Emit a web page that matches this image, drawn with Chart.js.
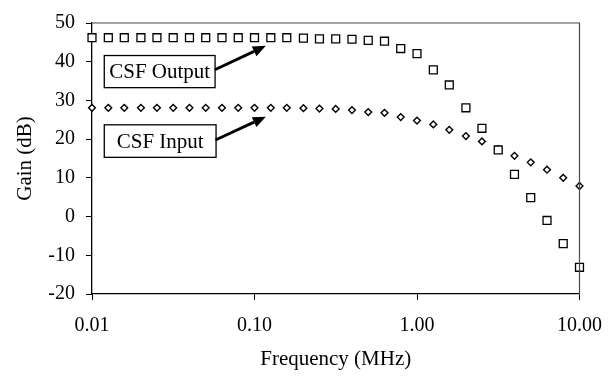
<!DOCTYPE html>
<html>
<head>
<meta charset="utf-8">
<script src="https://cdn.jsdelivr.net/npm/chart.js@4"></script>
<style>
  html, body { margin: 0; padding: 0; background: #ffffff; }
  #wrap { width: 616px; height: 378px; position: relative; }
</style>
</head>
<body>
<div id="wrap"><canvas id="c" width="616" height="378"></canvas></div>
<script>
// Frequency (MHz), 10 points per decade
const frequencies = [0.01, 0.0126, 0.0158, 0.02, 0.0251, 0.0316, 0.0398, 0.0501, 0.0631, 0.0794,
  0.1, 0.126, 0.158, 0.2, 0.251, 0.316, 0.398, 0.501, 0.631, 0.794,
  1, 1.26, 1.58, 2, 2.51, 3.16, 3.98, 5.01, 6.31, 7.94, 10];
// Gain (dB)
const csfOutput = [46.2, 46.2, 46.2, 46.2, 46.2, 46.2, 46.2, 46.2, 46.2, 46.2,
  46.2, 46.2, 46.2, 46.1, 45.9, 45.9, 45.8, 45.5, 45.3, 43.4,
  42.1, 37.9, 34.0, 28.1, 22.8, 17.2, 10.9, 4.9, -1.0, -7.0, -13.1];
const csfInput = [28.1, 28.1, 28.1, 28.1, 28.1, 28.1, 28.1, 28.1, 28.1, 28.1,
  28.1, 28.1, 28.1, 28.0, 27.9, 27.8, 27.5, 27.0, 26.8, 25.7,
  24.8, 23.8, 22.4, 20.8, 19.4, 17.4, 15.7, 14.0, 12.1, 10.0, 7.9];
const xTickValues = [0.01, 0.1, 1, 10];
const xTickLabels = ['0.01', '0.10', '1.00', '10.00'];
const seriesNames = ['CSF Output', 'CSF Input'];

const FONT = "'Liberation Serif', 'Times New Roman', serif";

// callout boxes: label text, box (data coords) and arrow tip (data coords)
const callouts = [
  { text: 'CSF Output', x0: 0.0119, x1: 0.0572, yTop: 41.6, yBot: 33.3, ax: 0.0570, ay: 37.9, tx: 0.1175, ty: 44.1 },
  { text: 'CSF Input',  x0: 0.0119, x1: 0.0580, yTop: 23.7, yBot: 15.3, ax: 0.0575, ay: 19.8, tx: 0.1175, ty: 25.8 }
];

const framePlugin = {
  id: 'frame',
  afterDatasetsDraw(chart) {
    const { ctx, chartArea: a, scales } = chart;
    ctx.save();
    // top and right frame
    ctx.strokeStyle = '#4a4a4a';
    ctx.lineWidth = 1.2;
    ctx.beginPath();
    ctx.moveTo(a.left, a.top);
    ctx.lineTo(a.right, a.top);
    ctx.lineTo(a.right, a.bottom);
    ctx.stroke();
    // callouts
    const xs = scales.x, ys = scales.y;
    callouts.forEach(c => {
      const bx0 = xs.getPixelForValue(c.x0), bx1 = xs.getPixelForValue(c.x1);
      const by0 = ys.getPixelForValue(c.yTop), by1 = ys.getPixelForValue(c.yBot);
      ctx.fillStyle = '#fff';
      ctx.fillRect(bx0, by0, bx1 - bx0, by1 - by0);
      ctx.strokeStyle = '#000';
      ctx.lineWidth = 1.3;
      ctx.strokeRect(bx0, by0, bx1 - bx0, by1 - by0);
      ctx.fillStyle = '#000';
      ctx.font = '21px ' + FONT;
      ctx.textAlign = 'center';
      ctx.textBaseline = 'middle';
      ctx.fillText(c.text, (bx0 + bx1) / 2, (by0 + by1) / 2 + 1);
      // arrow
      const sx = xs.getPixelForValue(c.ax), sy = ys.getPixelForValue(c.ay);
      const tx = xs.getPixelForValue(c.tx), ty = ys.getPixelForValue(c.ty);
      const ang = Math.atan2(ty - sy, tx - sx);
      const hl = 13, hw = 5.5;
      const bxp = tx - hl * Math.cos(ang), byp = ty - hl * Math.sin(ang);
      ctx.lineWidth = 2.8;
      ctx.beginPath();
      ctx.moveTo(sx, sy);
      ctx.lineTo(bxp, byp);
      ctx.stroke();
      ctx.beginPath();
      ctx.moveTo(tx, ty);
      ctx.lineTo(bxp + hw * Math.sin(ang), byp - hw * Math.cos(ang));
      ctx.lineTo(bxp - hw * Math.sin(ang), byp + hw * Math.cos(ang));
      ctx.closePath();
      ctx.fill();
    });
    ctx.restore();
  }
};

const bgPlugin = {
  id: 'bg',
  beforeDraw(chart) {
    const ctx = chart.ctx;
    ctx.save();
    ctx.fillStyle = '#fff';
    ctx.fillRect(0, 0, chart.width, chart.height);
    ctx.restore();
  }
};

new Chart(document.getElementById('c'), {
  type: 'scatter',
  data: {
    datasets: [
      {
        label: seriesNames[0],
        data: frequencies.map((f, i) => ({ x: f, y: csfOutput[i] })),
        pointStyle: 'rect',
        pointRadius: 5.6,
        pointBorderWidth: 1.3,
        borderColor: '#000',
        backgroundColor: '#fff',
        clip: false
      },
      {
        label: seriesNames[1],
        data: frequencies.map((f, i) => ({ x: f, y: csfInput[i] })),
        pointStyle: 'rectRot',
        pointRadius: 3.4,
        pointBorderWidth: 1.4,
        borderColor: '#000',
        backgroundColor: '#fff',
        clip: false
      }
    ]
  },
  options: {
    responsive: false,
    animation: false,
    devicePixelRatio: 1,
    layout: { padding: { top: 18, right: 34, left: 0, bottom: 0 } },
    plugins: {
      legend: { display: false },
      tooltip: { enabled: false }
    },
    scales: {
      x: {
        type: 'logarithmic',
        min: 0.01,
        max: 10,
        afterBuildTicks(scale) { scale.ticks = xTickValues.map(v => ({ value: v })); },
        afterFit(scale) { scale.height = 84; },
        ticks: {
          autoSkip: false,
          maxRotation: 0,
          padding: 14,
          color: '#000',
          font: { family: FONT, size: 20 },
          callback: (v, i) => xTickLabels[i]
        },
        grid: { drawOnChartArea: false, drawTicks: true, tickLength: 6, color: '#000', tickColor: '#000' },
        border: { display: true, color: '#000', width: 1.3 },
        title: {
          display: true,
          text: 'Frequency (MHz)',
          color: '#000',
          font: { family: FONT, size: 21 },
          padding: { top: 0, bottom: 6 }
        }
      },
      y: {
        type: 'linear',
        min: -20,
        max: 50,
        afterFit(scale) { scale.width = 92; },
        ticks: {
          stepSize: 10,
          padding: 11,
          color: '#000',
          font: { family: FONT, size: 20 }
        },
        grid: { drawOnChartArea: false, drawTicks: true, tickLength: 6, color: '#000', tickColor: '#000' },
        border: { display: true, color: '#000', width: 1.3 },
        title: {
          display: true,
          text: 'Gain (dB)',
          color: '#000',
          font: { family: FONT, size: 21 },
          padding: { top: 13, bottom: 0 }
        }
      }
    }
  },
  plugins: [bgPlugin, framePlugin]
});
</script>
</body>
</html>
